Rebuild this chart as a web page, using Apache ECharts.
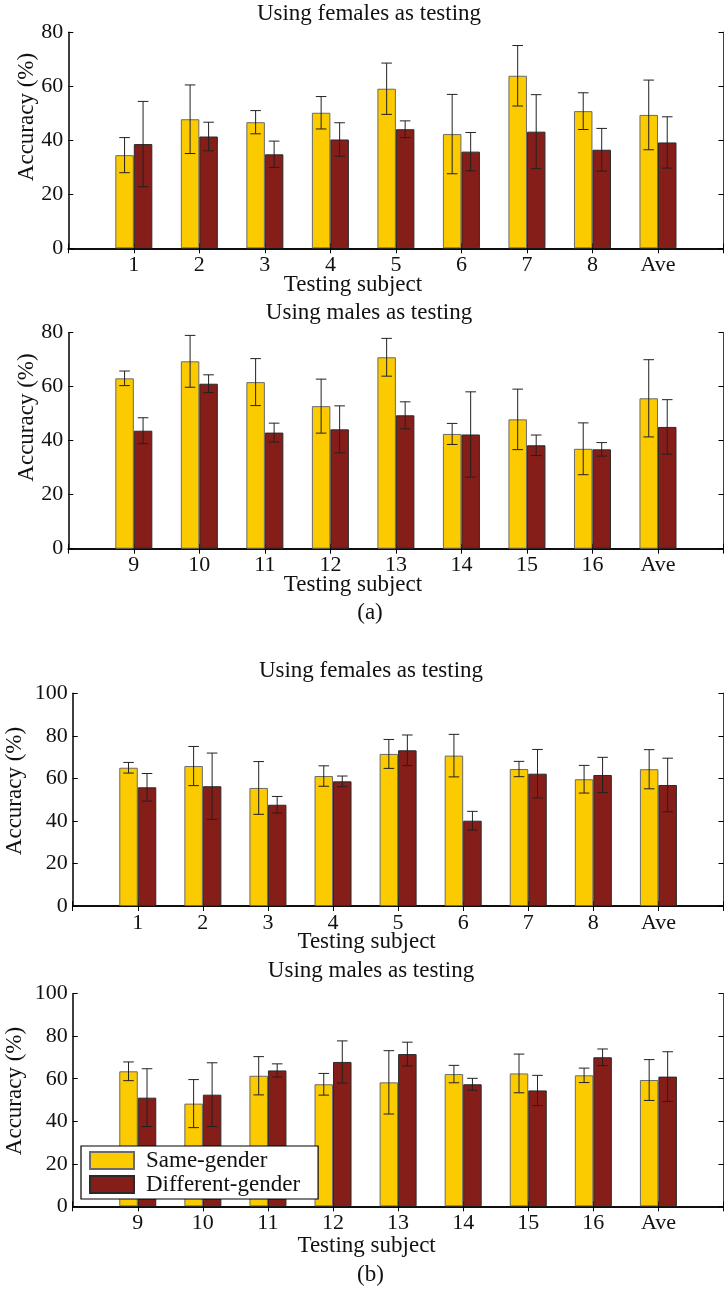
<!DOCTYPE html>
<html>
<head>
<meta charset="utf-8">
<script src="https://cdn.jsdelivr.net/npm/echarts@6/dist/echarts.min.js"></script>
<style>
html,body{margin:0;padding:0;overflow:hidden;background:#fff;}
#chart{width:732px;height:1289px;}
</style>
</head>
<body>
<div id="chart"></div>
<script>
// ---------- data ----------
const catsA1 = ['1','2','3','4','5','6','7','8','Ave'];
const catsA2 = ['9','10','11','12','13','14','15','16','Ave'];
const catsB1 = ['1','2','3','4','5','6','7','8','Ave'];
const catsB2 = ['9','10','11','12','13','14','15','16','Ave'];

const sameA1    = [34.5, 47.8, 46.7, 50.2, 59.1, 42.3, 63.9, 50.8, 49.4];
const sameA1Err = [6.5, 12.7, 4.3, 6.0, 9.5, 14.7, 11.2, 6.8, 12.9];
const diffA1    = [38.6, 41.4, 34.8, 40.3, 44.1, 35.8, 43.2, 36.5, 39.2];
const diffA1Err = [15.8, 5.3, 4.9, 6.2, 3.1, 7.1, 13.7, 7.9, 9.5];

const sameA2    = [63.1, 69.4, 61.7, 52.8, 70.9, 42.5, 47.9, 37.0, 55.7];
const sameA2Err = [2.7, 9.6, 8.7, 10.0, 7.0, 3.9, 11.2, 9.6, 14.3];
const diffA2    = [43.7, 61.1, 43.0, 44.2, 49.4, 42.3, 38.3, 36.8, 45.1];
const diffA2Err = [4.8, 3.3, 3.5, 8.7, 5.0, 15.8, 3.8, 2.5, 10.1];

const sameB1    = [65.0, 65.8, 55.5, 61.1, 71.5, 70.7, 64.4, 59.6, 64.3];
const sameB1Err = [2.5, 9.2, 12.4, 4.8, 6.8, 10.0, 3.6, 6.5, 9.2];
const diffB1    = [55.8, 56.3, 47.6, 58.6, 73.2, 40.1, 62.2, 61.6, 56.9];
const diffB1Err = [6.5, 15.6, 3.9, 2.5, 7.2, 4.4, 11.4, 8.3, 12.6];

const sameB2    = [63.5, 48.3, 61.4, 57.4, 58.3, 62.2, 62.5, 61.6, 59.4];
const sameB2Err = [4.4, 11.3, 9.0, 5.1, 14.9, 4.1, 9.1, 3.4, 9.6];
const diffB2    = [51.1, 52.5, 63.9, 67.9, 71.6, 57.4, 54.5, 70.1, 61.0];
const diffB2Err = [13.6, 15.0, 3.1, 9.9, 5.6, 2.8, 7.1, 3.9, 11.7];

const yTicksA = [0, 20, 40, 60, 80];
const yTicksB = [0, 20, 40, 60, 80, 100];

const seriesNames = ['Same-gender', 'Different-gender'];
const panelTitles = ['Using females as testing', 'Using males as testing', 'Using females as testing', 'Using males as testing'];
const xName = 'Testing subject';
const yName = 'Accuracy (%)';
const subLabels = ['(a)', '(b)'];

// ---------- style / layout ----------
const FONT = '"Liberation Serif", "Times New Roman", serif';
const YELLOW = '#FBCB00';
const RED = '#851D19';
const BAR_W = 18.5;
const TXT = '#111';

const panels = [
  {cats: catsA1, same: sameA1, sameErr: sameA1Err, diff: diffA1, diffErr: diffA1Err, ticks: yTicksA,
   grid: {left: 68.3, top: 32.3, width: 657, height: 216},
   title: [369, 14], xname: [353, 285], yname: [27, 117]},
  {cats: catsA2, same: sameA2, sameErr: sameA2Err, diff: diffA2, diffErr: diffA2Err, ticks: yTicksA,
   grid: {left: 68.3, top: 332.7, width: 657, height: 216},
   title: [369, 313], xname: [353, 585], yname: [27, 417.5]},
  {cats: catsB1, same: sameB1, sameErr: sameB1Err, diff: diffB1, diffErr: diffB1Err, ticks: yTicksB,
   grid: {left: 72.7, top: 693.3, width: 655.6, height: 212.7},
   title: [371, 671], xname: [366.6, 942], yname: [15, 791]},
  {cats: catsB2, same: sameB2, sameErr: sameB2Err, diff: diffB2, diffErr: diffB2Err, ticks: yTicksB,
   grid: {left: 72.7, top: 993.7, width: 655.6, height: 212.6},
   title: [371, 971], xname: [366.6, 1246], yname: [15, 1091]}
];

function errRender(offset) {
  return function (params, api) {
    const ci = api.value(0);
    const m = api.value(1), e = api.value(2);
    const pt = api.coord([ci, m + e]);
    const pb = api.coord([ci, m - e]);
    const x = pt[0] + offset;
    const cap = 5.3;
    const st = {stroke: '#222', lineWidth: 1};
    return {type: 'group', children: [
      {type: 'line', shape: {x1: x, y1: pt[1], x2: x, y2: pb[1]}, style: st},
      {type: 'line', shape: {x1: x - cap, y1: pt[1], x2: x + cap, y2: pt[1]}, style: st},
      {type: 'line', shape: {x1: x - cap, y1: pb[1], x2: x + cap, y2: pb[1]}, style: st}
    ]};
  };
}

const grid = [], xAxis = [], yAxis = [], series = [], graphic = [];

panels.forEach((p, i) => {
  grid.push(Object.assign({containLabel: false}, p.grid));
  const axisCats = [' '].concat(p.cats, ['  ']);
  const lineStyle = {color: '#000', width: 1.5};
  const tickStyle = {color: '#000', width: 1};
  xAxis.push({type: 'category', gridIndex: i, data: axisCats, boundaryGap: false, position: 'bottom',
    axisLine: {show: true, lineStyle: lineStyle},
    axisTick: {show: true, inside: true, length: 5, lineStyle: tickStyle},
    axisLabel: {show: true, interval: 0, fontFamily: FONT, fontSize: 22, color: TXT, margin: 6},
    splitLine: {show: false}});
  xAxis.push({type: 'category', gridIndex: i, data: axisCats, boundaryGap: false, position: 'top',
    axisLine: {show: true, lineStyle: lineStyle},
    axisTick: {show: true, inside: true, length: 5, lineStyle: tickStyle},
    axisLabel: {show: false}, splitLine: {show: false}});
  const yMax = p.ticks[p.ticks.length - 1];
  const yInt = p.ticks[1] - p.ticks[0];
  yAxis.push({type: 'value', gridIndex: i, min: p.ticks[0], max: yMax, interval: yInt, position: 'left',
    axisLine: {show: true, lineStyle: lineStyle},
    axisTick: {show: true, inside: true, length: 5, lineStyle: tickStyle},
    axisLabel: {show: true, fontFamily: FONT, fontSize: 22, color: TXT, margin: 5},
    splitLine: {show: false}});
  yAxis.push({type: 'value', gridIndex: i, min: p.ticks[0], max: yMax, interval: yInt, position: 'right',
    axisLine: {show: true, lineStyle: lineStyle},
    axisTick: {show: true, inside: true, length: 5, lineStyle: tickStyle},
    axisLabel: {show: false}, splitLine: {show: false}});

  const xi = 2 * i, yi = 2 * i;
  series.push({type: 'bar', name: seriesNames[0], xAxisIndex: xi, yAxisIndex: yi,
    data: p.same.map((v, k) => [p.cats[k], v]),
    barWidth: BAR_W, barGap: '0%',
    itemStyle: {color: YELLOW, borderColor: '#6a6a6a', borderWidth: 1}, emphasis: {disabled: true}, z: 2});
  series.push({type: 'bar', name: seriesNames[1], xAxisIndex: xi, yAxisIndex: yi,
    data: p.diff.map((v, k) => [p.cats[k], v]),
    barWidth: BAR_W, barGap: '0%',
    itemStyle: {color: RED, borderColor: '#2a2a2a', borderWidth: 1}, emphasis: {disabled: true}, z: 2});
  series.push({type: 'custom', xAxisIndex: xi, yAxisIndex: yi, z: 3, silent: true,
    renderItem: errRender(-BAR_W / 2),
    encode: {x: 0, y: 1},
    data: p.same.map((v, k) => [p.cats[k], v, p.sameErr[k]])});
  series.push({type: 'custom', xAxisIndex: xi, yAxisIndex: yi, z: 3, silent: true,
    renderItem: errRender(BAR_W / 2),
    encode: {x: 0, y: 1},
    data: p.diff.map((v, k) => [p.cats[k], v, p.diffErr[k]])});

  const txt = (text, x, y, rot) => ({type: 'text', x: x, y: y, rotation: rot || 0, z: 10,
    style: {text: text, fill: TXT, font: '23px ' + FONT, textAlign: 'center', textVerticalAlign: 'middle', verticalAlign: 'middle'}});
  graphic.push(txt(panelTitles[i], p.title[0], p.title[1]));
  graphic.push(txt(xName, p.xname[0], p.xname[1]));
  graphic.push(txt(yName, p.yname[0], p.yname[1], Math.PI / 2));
});

graphic.push({type: 'text', x: 370, y: 613, z: 10,
  style: {text: subLabels[0], fill: TXT, font: '23px ' + FONT, textAlign: 'center', textVerticalAlign: 'middle', verticalAlign: 'middle'}});
graphic.push({type: 'text', x: 370.5, y: 1275, z: 10,
  style: {text: subLabels[1], fill: TXT, font: '23px ' + FONT, textAlign: 'center', textVerticalAlign: 'middle', verticalAlign: 'middle'}});

const chart = echarts.init(document.getElementById('chart'), null, {renderer: 'canvas'});
chart.setOption({
  animation: false,
  backgroundColor: '#fff',
  grid: grid,
  xAxis: xAxis,
  yAxis: yAxis,
  series: series,
  graphic: graphic,
  legend: {
    show: true, orient: 'vertical', left: 81, top: 1146,
    data: seriesNames, icon: 'rect',
    itemWidth: 44, itemHeight: 17, itemGap: 1,
    padding: [3, 18, 3, 8],
    backgroundColor: '#fff', borderColor: '#000', borderWidth: 1.2, borderRadius: 0,
    textStyle: {fontFamily: FONT, fontSize: 23, color: TXT, padding: [0, 0, 0, 7]},
    selectedMode: false, z: 20
  }
});
</script>
</body>
</html>
